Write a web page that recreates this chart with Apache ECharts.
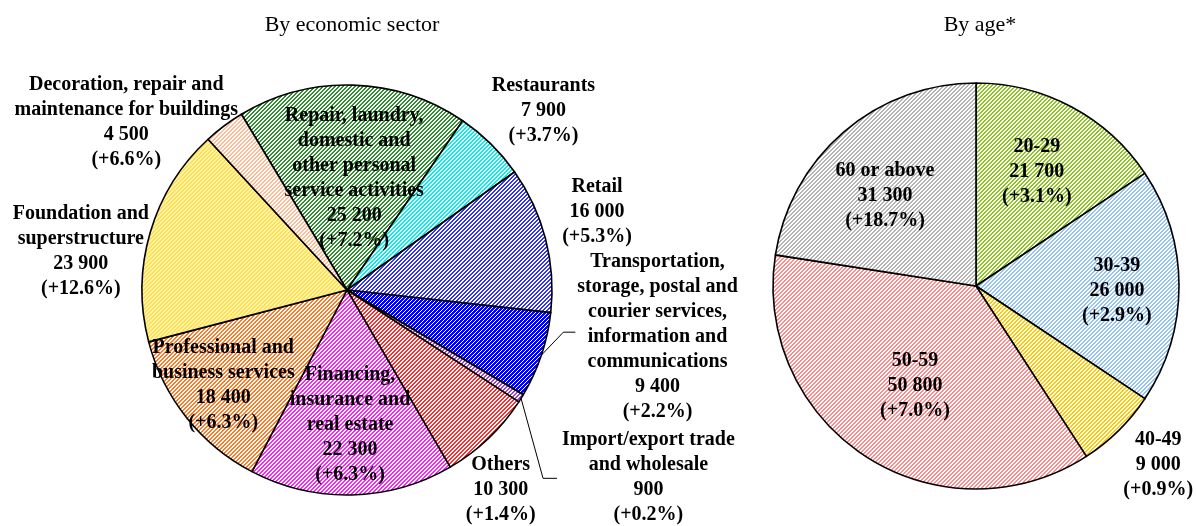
<!DOCTYPE html>
<html>
<head>
<meta charset="utf-8">
<script src="https://cdn.jsdelivr.net/npm/echarts@6/dist/echarts.min.js"></script>
<style>
  html, body { margin: 0; padding: 0; background: #fff; }
  #chart { width: 1196px; height: 526px; }
</style>
</head>
<body>
<div id="chart"></div>
<script>
// data ------------------------------------------------------------
var sectorNames = [
  'Repair, laundry,\ndomestic and\nother personal\nservice activities',
  'Restaurants',
  'Retail',
  'Transportation,\nstorage, postal and\ncourier services,\ninformation and\ncommunications',
  'Import/export trade\nand wholesale',
  'Others',
  'Financing,\ninsurance and\nreal estate',
  'Professional and\nbusiness services',
  'Foundation and\nsuperstructure',
  'Decoration, repair and\nmaintenance for buildings'
]
var sectorValues = [25200, 7900, 16000, 9400, 900, 10300, 22300, 18400, 23900, 4500]
var sectorChanges = [7.2, 3.7, 5.3, 2.2, 0.2, 1.4, 6.3, 6.3, 12.6, 6.6]

var ageNames = ['20-29', '30-39', '40-49', '50-59', '60 or above']
var ageValues = [21700, 26000, 9000, 50800, 31300]
var ageChanges = [3.1, 2.9, 0.9, 7.0, 18.7]

var titles = ['By economic sector', 'By age*']

// styles ----------------------------------------------------------
// [stripe colour, background, stripe pixels out of 4]
var sectorFill = [
  ['#2f8f2f', '#ffffff', 2],
  ['#00f0f0', '#ffffff', 2],
  ['#3030ff', '#ffffff', 2],
  ['#0000ff', '#ffffff', 3],
  ['#a040d0', '#ffffff', 2],
  ['#ff2a2a', '#ffffff', 2],
  ['#ff22ff', '#ffffff', 2],
  ['#ff7a22', '#ffffff', 2],
  ['#ffe050', '#fff3b0', 2],
  ['#ffbb95', '#ffffff', 2]
]
var ageFill = [
  ['#8cc520', '#ffffff', 2],
  ['#96c4f2', '#ffffff', 2],
  ['#ffc800', '#ffffff', 2],
  ['#ff8c8c', '#ffffff', 2],
  ['#b4b4b4', '#ffffff', 2]
]
// label spot: [distance from centre, angle shift in degrees, leader line steps]
var sectorLabelAt = [
  [112, -2], [266, -3], [262, 3],
  [314, 10, [[22, -23], [12, 0]]],
  [355, 0, [[22, 80], [14, 0]]],
  [252, -6], [135, 0], [156, -1], [269, 8], [277, 16]
]
var ageLabelAt = [[129, 0], [141, -2], [255, 1], [117, 1.5], [128, 4.7]]

var leftCenter = [347, 290]
var rightCenter = [976, 286]

function stripes(f) {
  var c = document.createElement('canvas')
  c.width = 4
  c.height = 4
  var g = c.getContext('2d')
  g.fillStyle = f[1]
  g.fillRect(0, 0, 4, 4)
  g.fillStyle = f[0]
  for (var x = 0; x < 4; x++) {
    for (var y = 0; y < 4; y++) {
      if ((x + y) % 4 < f[2]) g.fillRect(x, y, 1, 1)
    }
  }
  return { image: c, repeat: 'repeat' }
}

function fmt(v) {
  return String(v).replace(/\B(?=(\d{3})+(?!\d))/g, ' ')
}

function items(names, values, changes, fills, spots) {
  return names.map(function (n, i) {
    var it = {
      name: n,
      value: values[i],
      change: changes[i],
      itemStyle: { color: stripes(fills[i]) }
    }
    if (spots[i][2]) {
      it.label = { position: 'outside' }
      it.labelLine = { show: true, lineStyle: { color: '#000', width: 1 } }
    }
    return it
  })
}

function placeLabels(center, spots) {
  return function (p) {
    var spot = spots[p.dataIndex]
    var ax, ay
    if (p.labelLinePoints) {
      ax = p.labelLinePoints[0][0]
      ay = p.labelLinePoints[0][1]
    } else {
      ax = p.labelRect.x + p.labelRect.width / 2
      ay = p.labelRect.y + p.labelRect.height / 2
    }
    var a = Math.atan2(ay - center[1], ax - center[0]) - spot[1] * Math.PI / 180
    var res = {
      x: center[0] + Math.cos(a) * spot[0],
      y: center[1] + Math.sin(a) * spot[0],
      align: 'center',
      verticalAlign: 'middle'
    }
    if (spot[2] && p.labelLinePoints) {
      var p0 = p.labelLinePoints[0]
      var p1 = [p0[0] + spot[2][0][0], p0[1] + spot[2][0][1]]
      var p2 = [p1[0] + spot[2][1][0], p1[1] + spot[2][1][1]]
      res.labelLinePoints = [p0, p1, p2]
    }
    return res
  }
}

var labelStyle = {
  show: true,
  position: 'inside',
  color: '#000',
  fontFamily: 'Liberation Serif',
  fontWeight: 'bold',
  fontSize: 20,
  lineHeight: 25,
  overflow: 'none',
  formatter: function (p) {
    return p.name + '\n' + fmt(p.value) + '\n(+' + p.data.change.toFixed(1) + '%)'
  }
}

var titleStyle = { fontFamily: 'Liberation Serif', fontWeight: 'normal', fontSize: 22, color: '#000' }

var chart = echarts.init(document.getElementById('chart'))
var option = {
  animation: false,
  backgroundColor: '#fff',
  title: [
    { text: titles[0], left: leftCenter[0], top: 9, textAlign: 'center', textStyle: titleStyle },
    { text: titles[1], left: rightCenter[0] - 1, top: 9, textAlign: 'center', textStyle: titleStyle }
  ],
  series: [
    {
      type: 'pie',
      center: leftCenter,
      radius: 205,
      startAngle: 121,
      clockwise: true,
      avoidLabelOverlap: false,
      emphasis: { disabled: true },
      itemStyle: { borderColor: '#000', borderWidth: 1.6 },
      label: labelStyle,
      labelLine: { show: false },
      labelLayout: placeLabels(leftCenter, sectorLabelAt),
      data: items(sectorNames, sectorValues, sectorChanges, sectorFill, sectorLabelAt)
    },
    {
      type: 'pie',
      center: rightCenter,
      radius: 203,
      startAngle: 90,
      clockwise: true,
      avoidLabelOverlap: false,
      emphasis: { disabled: true },
      itemStyle: { borderColor: '#000', borderWidth: 1.6 },
      label: labelStyle,
      labelLine: { show: false },
      labelLayout: placeLabels(rightCenter, ageLabelAt),
      data: items(ageNames, ageValues, ageChanges, ageFill, ageLabelAt)
    }
  ]
}
option && chart.setOption(option)
</script>
</body>
</html>
